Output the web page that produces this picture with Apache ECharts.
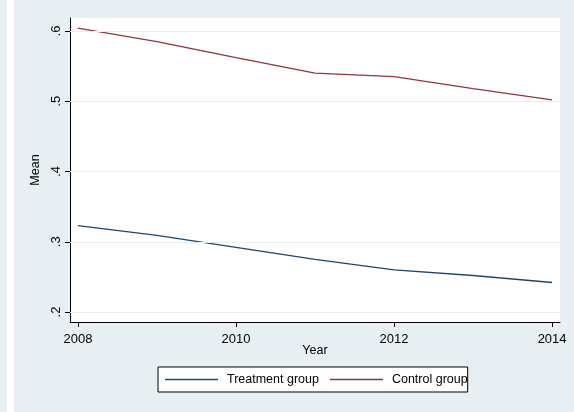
<!DOCTYPE html>
<html>
<head>
<meta charset="utf-8">
<script src="https://cdn.jsdelivr.net/npm/echarts@6/dist/echarts.min.js"></script>
<style>html,body{margin:0;padding:0;background:#e8eff2;}#chart{width:574px;height:412px;}</style>
</head>
<body>
<div id="chart"></div>
<script>
var years = [2008, 2009, 2010, 2011, 2012, 2013, 2014];
var treatment = [0.323, 0.309, 0.292, 0.275, 0.260, 0.252, 0.242];
var control = [0.604, 0.585, 0.562, 0.540, 0.535, 0.518, 0.502];
var xTicks = [2008, 2010, 2012, 2014];
var yTicks = [0.2, 0.3, 0.4, 0.5, 0.6];

var chart = echarts.init(document.getElementById('chart'));
var font = 'Liberation Sans, Arial, sans-serif';

function pairs(vals) {
    return years.map(function (y, i) { return [y, vals[i]]; });
}

chart.setOption({
    backgroundColor: '#e8eff2',
    animation: false,
    textStyle: { fontFamily: font },
    graphic: [
        { type: 'rect', shape: { x: 7, y: 0, width: 7, height: 412 }, style: { fill: '#ffffff' } }
    ],
    grid: {
        left: 70, top: 18, width: 490, height: 304,
        show: true, backgroundColor: '#ffffff', borderWidth: 0
    },
    legend: {
        left: 158, top: 367,
        padding: [6, 0, 6, 7],
        backgroundColor: '#ffffff',
        borderColor: '#000', borderWidth: 1,
        itemWidth: 53, itemHeight: 1.5, itemGap: 11,
        icon: 'rect',
        textStyle: { fontSize: 12.5, color: '#000', fontFamily: font, padding: [0, 0, 0, 4] },
        data: ['Treatment group', 'Control group']
    },
    xAxis: {
        type: 'value',
        min: 2007.9, max: 2014.1,
        name: 'Year', nameLocation: 'middle', nameGap: 22, nameMoveOverlap: false,
        nameTextStyle: { fontSize: 12.5, color: '#000' },
        axisLine: { show: true, lineStyle: { color: '#000', width: 1 } },
        axisTick: { show: true, length: 5, customValues: xTicks, lineStyle: { color: '#000' } },
        axisLabel: {
            customValues: xTicks, fontSize: 13, color: '#000', margin: 11,
            formatter: function (v) { return String(v); }
        },
        splitLine: { show: false }
    },
    yAxis: {
        type: 'value',
        min: 0.1858, max: 0.6185,
        name: 'Mean', nameLocation: 'middle', nameGap: 28,
        nameTextStyle: { fontSize: 12.5, color: '#000' },
        axisLine: { show: true, lineStyle: { color: '#000', width: 1 } },
        axisTick: { show: true, length: 5, customValues: yTicks, lineStyle: { color: '#000' } },
        axisLabel: {
            customValues: yTicks, rotate: 90, fontSize: 13, color: '#000', margin: 7,
            align: 'center', verticalAlign: 'bottom',
            formatter: function (v) { return String(Math.round(v * 10) / 10).replace(/^0/, ''); }
        },
        splitLine: { show: false }
    },
    series: [
        {
            name: 'Gridlines', type: 'line', data: [], silent: true,
            markLine: {
                silent: true, symbol: 'none', label: { show: false },
                lineStyle: { color: '#e6eeee', width: 1, type: 'solid' },
                data: yTicks.map(function (v) { return { yAxis: v }; })
            }
        },
        {
            name: 'Treatment group', type: 'line', data: pairs(treatment),
            showSymbol: false, lineStyle: { color: '#1a476f', width: 1.3 },
            itemStyle: { color: '#1a476f' }
        },
        {
            name: 'Control group', type: 'line', data: pairs(control),
            showSymbol: false, lineStyle: { color: '#90353b', width: 1.3 },
            itemStyle: { color: '#90353b' }
        }
    ]
});
</script>
</body>
</html>
